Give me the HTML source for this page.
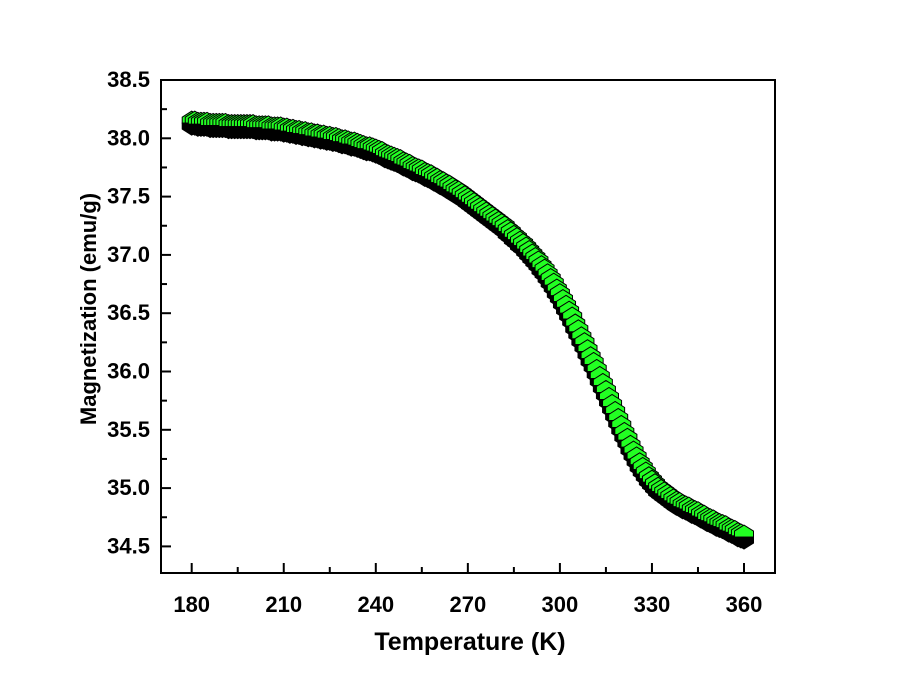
<!DOCTYPE html>
<html><head><meta charset="utf-8"><style>
html,body{margin:0;padding:0;background:#fff;}
svg{display:block;font-family:"Liberation Sans",Arial,sans-serif;}
</style></head><body>
<svg id="chart" width="900" height="688"></svg>
<script>
const temps = [];
for (let t = 180; t <= 360; t++) temps.push(t);
const magnetization = [
38.13,38.13,38.12,38.12,38.12,38.12,38.11,38.11,38.11,38.11,38.11,
38.11,38.10,38.10,38.10,38.10,38.10,38.10,38.10,38.10,38.10,
38.09,38.09,38.09,38.09,38.09,38.08,38.08,38.08,38.08,38.07,
38.07,38.06,38.06,38.05,38.05,38.04,38.04,38.03,38.03,38.02,
38.02,38.01,38.01,38.00,38.00,37.99,37.99,37.98,37.97,37.97,
37.96,37.95,37.95,37.94,37.93,37.92,37.91,37.91,37.90,37.89,
37.88,37.87,37.85,37.84,37.83,37.82,37.81,37.80,37.78,37.77,
37.76,37.74,37.73,37.72,37.71,37.69,37.68,37.67,37.65,37.64,
37.62,37.61,37.59,37.58,37.56,37.54,37.53,37.51,37.49,37.47,
37.45,37.43,37.41,37.39,37.37,37.35,37.33,37.31,37.29,37.27,
37.25,37.23,37.20,37.18,37.15,37.13,37.10,37.08,37.05,37.02,
36.99,36.96,36.93,36.89,36.86,36.82,36.78,36.74,36.69,36.65,
36.60,36.55,36.50,36.45,36.39,36.34,36.28,36.23,36.17,36.11,
36.06,36.00,35.94,35.88,35.82,35.76,35.70,35.64,35.58,35.52,
35.46,35.41,35.35,35.30,35.25,35.20,35.16,35.12,35.08,35.05,
35.02,34.99,34.97,34.95,34.93,34.91,34.89,34.87,34.86,34.84,
34.83,34.82,34.80,34.79,34.78,34.76,34.75,34.73,34.72,34.71,
34.69,34.68,34.67,34.66,34.64,34.63,34.62,34.60,34.59,34.58];
const xTicks = [180,210,240,270,300,330,360];
const yTicks = [34.5,35.0,35.5,36.0,36.5,37.0,37.5,38.0,38.5];

const NS = "http://www.w3.org/2000/svg";
const svg = document.getElementById('chart');
const L=161, R=775, T=80, B=573;
const xS = v => 191.7 + (v-180)*(552.3/180);
const yS = v => 80 + (38.5-v)*116.6;
function mk(tag, attrs, parent){const e=document.createElementNS(NS,tag);for(const k in attrs)e.setAttribute(k,attrs[k]);(parent||svg).appendChild(e);return e;}

// series
const g = mk('g',{});


for (let i=0;i<temps.length;i++){
  const cx=xS(temps[i]), cy=yS(magnetization[i]);
  const w=9.5, h=12, s=6;
  const m = mk('g',{},g);
  
  
  mk('polygon',{points:`${cx-w},${cy} ${cx-w},${cy-s} ${cx},${cy-h} ${cx+w},${cy-s} ${cx+w},${cy}`,fill:'#22ff22',stroke:'#000','stroke-width':1},m);
  mk('polygon',{points:`${cx-w},${cy} ${cx+w},${cy} ${cx+w},${cy+s} ${cx},${cy+h} ${cx-w},${cy+s}`,fill:'#000',stroke:'#000','stroke-width':1},m);
}

// frame
const fr = mk('rect',{x:L,y:T,width:R-L,height:B-T,fill:'none',stroke:'#000','stroke-width':2});



// x ticks
xTicks.forEach((v,i)=>{
  const x=xS(v);
  const t=mk('line',{x1:x,x2:x,y1:B,y2:B-10,stroke:'#000','stroke-width':2});
  
  
  if(i<xTicks.length-1){const xm=xS(v+15);mk('line',{x1:xm,x2:xm,y1:B,y2:B-6,stroke:'#000','stroke-width':2});}
  const lb=mk('text',{x:x,y:612,'text-anchor':'middle','font-size':22,'font-weight':'bold'});
  lb.textContent=v;
  
  
});
// y ticks
yTicks.forEach((v,i)=>{
  const y=yS(v);
  const t=mk('line',{x1:L,x2:L+10,y1:y,y2:y,stroke:'#000','stroke-width':2});
  
  
  if(i<yTicks.length-1){const ym=yS(v+0.25);mk('line',{x1:L,x2:L+6,y1:ym,y2:ym,stroke:'#000','stroke-width':2});}
  const lb=mk('text',{x:150,y:y+7,'text-anchor':'end','font-size':22,'font-weight':'bold'});
  lb.textContent=v.toFixed(1);
  
  
});
const xt=mk('text',{x:470,y:650,'text-anchor':'middle','font-size':25,'font-weight':'bold'});
xt.textContent='Temperature (K)';


const yt=mk('text',{x:0,y:0,'text-anchor':'middle','font-size':22,'font-weight':'bold',transform:'translate(96,309) rotate(-90)'});
yt.textContent='Magnetization (emu/g)';


</script>
</body></html>
